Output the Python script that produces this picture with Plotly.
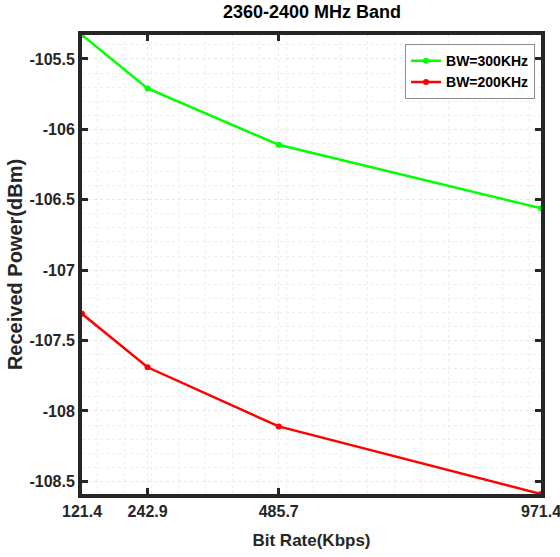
import plotly.graph_objects as go

bit_rate = [121.4, 242.9, 485.7, 971.4]
tick_labels = ["121.4", "242.9", "485.7", "971.4"]
bw300 = [-105.33, -105.71, -106.11, -106.56]
bw200 = [-107.31, -107.69, -108.11, -108.59]
y_ticks = [-105.5, -106, -106.5, -107, -107.5, -108, -108.5]
y_tick_labels = ["-105.5", "-106", "-106.5", "-107", "-107.5", "-108", "-108.5"]

FONT = "Liberation Sans Narrow, Arial Narrow, Liberation Sans, Arial, sans-serif"
AX = "#262626"

fig = go.Figure()
fig.add_trace(go.Scatter(x=bit_rate, y=bw300, mode="lines+markers", name="<b>BW=300KHz</b>",
                         line=dict(color="#00ff00", width=2.5), marker=dict(size=6, color="#00ff00"),
                         cliponaxis=False))
fig.add_trace(go.Scatter(x=bit_rate, y=bw200, mode="lines+markers", name="<b>BW=200KHz</b>",
                         line=dict(color="#ff0000", width=2.5), marker=dict(size=6, color="#ff0000"),
                         cliponaxis=False))

fig.update_layout(
    width=560, height=557,
    margin=dict(l=82, r=19, t=35, b=63),
    paper_bgcolor="white", plot_bgcolor="white",
    title=dict(text="<b>2360-2400 MHz Band</b>", x=0.557, xanchor="center", y=0.99, yanchor="top",
               font=dict(family=FONT, size=18, color="black")),
    legend=dict(x=0.987, xanchor="right", y=0.98, yanchor="top",
                bgcolor="white", bordercolor="#8c8c8c", borderwidth=1,
                font=dict(family=FONT, size=14, color="black"),
                tracegroupgap=0, itemwidth=30),
    font=dict(family=FONT, color=AX),
)
fig.update_xaxes(
    range=[121.4, 971.4], tickmode="array", tickvals=bit_rate,
    ticktext=["<b>%s</b>" % t for t in tick_labels],
    tickfont=dict(family=FONT, size=16, color=AX),
    ticklabeloverflow="allow", automargin=False,
    ticks="inside", ticklen=6, tickwidth=3, tickcolor=AX,
    showline=True, linewidth=4, linecolor=AX, mirror="ticks",
    showgrid=True, griddash="dot", gridcolor="#e6e6e6", gridwidth=1,
    minor=dict(dtick=50, tick0=0, showgrid=True, griddash="dot", gridcolor="#eeeeee", ticks=""),
    zeroline=False,
    title=dict(text="<b>Bit Rate(Kbps)</b>", font=dict(family=FONT, size=17, color=AX), standoff=16),
)
fig.update_yaxes(
    range=[-108.59, -105.33], tickmode="array", tickvals=y_ticks,
    ticktext=["<b>%s</b>" % t for t in y_tick_labels],
    tickfont=dict(family=FONT, size=16, color=AX),
    ticks="inside", ticklen=6, tickwidth=3, tickcolor=AX,
    showline=True, linewidth=4, linecolor=AX, mirror="ticks",
    showgrid=True, griddash="dot", gridcolor="#e6e6e6", gridwidth=1,
    minor=dict(dtick=0.1, tick0=0, showgrid=True, griddash="dot", gridcolor="#eeeeee", ticks=""),
    zeroline=False,
    title=dict(text="<b>Received Power(dBm)</b>", font=dict(family="Liberation Sans, Arial, sans-serif", size=20, color=AX), standoff=2),
)

fig.write_html("out.html")
